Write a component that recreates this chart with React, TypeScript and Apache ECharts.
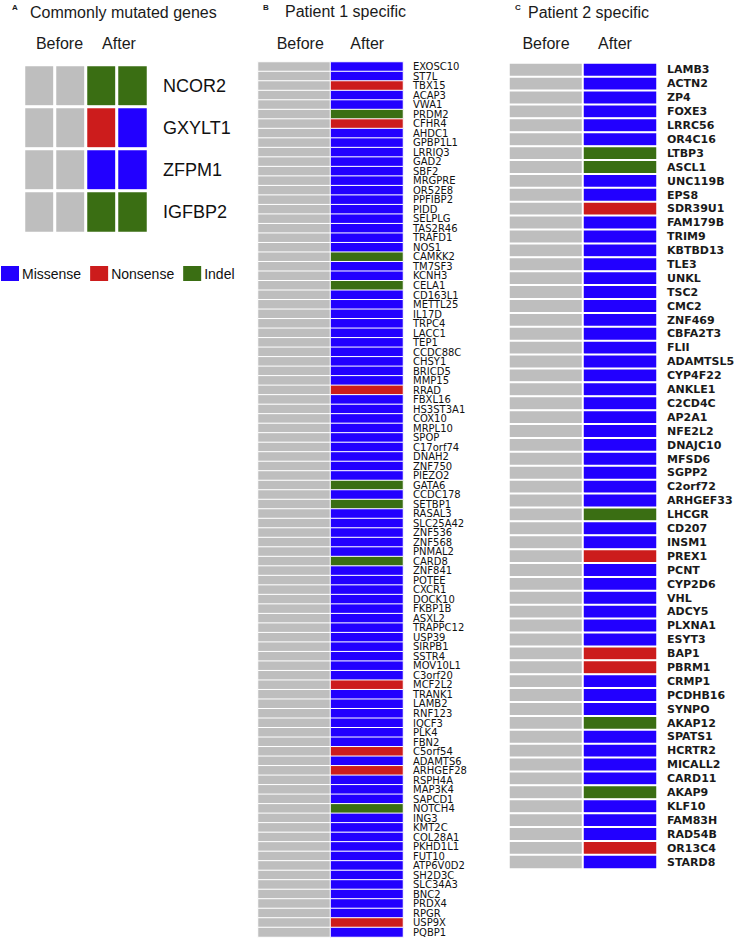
import React, { useEffect, useRef } from "react";
import * as echarts from "echarts";

// ---------- Data ----------
const colLabels = ["Before", "After"];
const commonCols = ["Before 1", "Before 2", "After 1", "After 2"];
const commonGenes = ["NCOR2", "GXYLT1", "ZFPM1", "IGFBP2"];
// "-" = no mutation (grey), M = Missense, N = Nonsense, I = Indel
const commonMuts = [
  ["-", "-", "I", "I"],
  ["-", "-", "N", "M"],
  ["-", "-", "M", "M"],
  ["-", "-", "I", "I"],
];

const p1Genes = [
  "EXOSC10", "ST7L", "TBX15", "ACAP3", "VWA1", "PRDM2", "CFHR4", "AHDC1", "GPBP1L1", "LRRIQ3",
  "GAD2", "SBF2", "MRGPRE", "OR52E8", "PPFIBP2", "PIDD", "SELPLG", "TAS2R46", "TRAFD1", "NOS1",
  "CAMKK2", "TM7SF3", "KCNH3", "CELA1", "CD163L1", "METTL25", "IL17D", "TRPC4", "LACC1", "TEP1",
  "CCDC88C", "CHSY1", "BRICD5", "MMP15", "RRAD", "FBXL16", "HS3ST3A1", "COX10", "MRPL10", "SPOP",
  "C17orf74", "DNAH2", "ZNF750", "PIEZO2", "GATA6", "CCDC178", "SETBP1", "RASAL3", "SLC25A42", "ZNF536",
  "ZNF568", "PNMAL2", "CARD8", "ZNF841", "POTEE", "CXCR1", "DOCK10", "FKBP1B", "ASXL2", "TRAPPC12",
  "USP39", "SIRPB1", "SSTR4", "MOV10L1", "C3orf20", "MCF2L2", "TRANK1", "LAMB2", "RNF123", "IQCF3",
  "PLK4", "FBN2", "C5orf54", "ADAMTS6", "ARHGEF28", "RSPH4A", "MAP3K4", "SAPCD1", "NOTCH4", "ING3",
  "KMT2C", "COL28A1", "PKHD1L1", "FUT10", "ATP6V0D2", "SH2D3C", "SLC34A3", "BNC2", "PRDX4", "RPGR",
  "USP9X", "PQBP1",
];
const p1Muts = [
  "M", "M", "N", "M", "M", "I", "N", "M", "M", "M",
  "M", "M", "M", "M", "M", "M", "M", "M", "M", "M",
  "I", "M", "M", "I", "M", "M", "M", "M", "M", "M",
  "M", "M", "M", "M", "N", "M", "M", "M", "M", "M",
  "M", "M", "M", "M", "I", "M", "I", "M", "M", "M",
  "M", "M", "I", "M", "M", "M", "M", "M", "M", "M",
  "M", "M", "M", "M", "M", "N", "M", "M", "M", "M",
  "M", "M", "N", "M", "N", "M", "M", "M", "I", "M",
  "M", "M", "M", "M", "M", "M", "M", "M", "M", "M",
  "N", "M",
];

const p2Genes = [
  "LAMB3", "ACTN2", "ZP4", "FOXE3", "LRRC56", "OR4C16", "LTBP3", "ASCL1", "UNC119B", "EPS8",
  "SDR39U1", "FAM179B", "TRIM9", "KBTBD13", "TLE3", "UNKL", "TSC2", "CMC2", "ZNF469", "CBFA2T3",
  "FLII", "ADAMTSL5", "CYP4F22", "ANKLE1", "C2CD4C", "AP2A1", "NFE2L2", "DNAJC10", "MFSD6", "SGPP2",
  "C2orf72", "ARHGEF33", "LHCGR", "CD207", "INSM1", "PREX1", "PCNT", "CYP2D6", "VHL", "ADCY5",
  "PLXNA1", "ESYT3", "BAP1", "PBRM1", "CRMP1", "PCDHB16", "SYNPO", "AKAP12", "SPATS1", "HCRTR2",
  "MICALL2", "CARD11", "AKAP9", "KLF10", "FAM83H", "RAD54B", "OR13C4", "STARD8",
];
const p2Muts = [
  "M", "M", "M", "M", "M", "M", "I", "I", "M", "M",
  "N", "M", "M", "M", "M", "M", "M", "M", "M", "M",
  "M", "M", "M", "M", "M", "M", "M", "M", "M", "M",
  "M", "M", "I", "M", "M", "N", "M", "M", "M", "M",
  "M", "M", "N", "N", "M", "M", "M", "I", "M", "M",
  "M", "M", "I", "M", "M", "M", "N", "M",
];

const mutCode: Record<string, number> = { "-": 0, M: 1, N: 2, I: 3 };
const legendNames = ["Missense", "Nonsense", "Indel"];

const GREY = "#BEBEBE";
const BLUE = "#2200FF";
const RED = "#CC1C1C";
const GREEN = "#3A6E13";

function buildCommon() {
  const d: number[][] = [];
  commonMuts.forEach((row, y) => row.forEach((m, x) => d.push([x, y, mutCode[m]])));
  return d;
}
function buildPatient(muts: string[]) {
  const d: number[][] = [];
  muts.forEach((m, y) => {
    d.push([0, y, 0]);
    d.push([1, y, mutCode[m]]);
  });
  return d;
}

export default function App() {
  const ref = useRef<HTMLDivElement>(null);
  useEffect(() => {
    if (!ref.current) return;
    const chart = echarts.init(ref.current, undefined, { renderer: "svg" });
    const sans = "Liberation Sans, Arial, Helvetica, sans-serif";
    const titleStyle = { fontSize: 16, fontWeight: "normal" as const, color: "#1a1a1a", fontFamily: sans };
    const letterStyle = { fontSize: 8, fontWeight: "bold" as const, color: "#1a1a1a", fontFamily: sans };
    const hiddenAxis = { axisLine: { show: false }, axisTick: { show: false }, splitLine: { show: false } };

    // per-column label nudges (rich padding) to match reference placement
    const colAxisLabel = (margin: number, bPad: number[], aPad: number[]) => ({
      fontSize: 16,
      color: "#1a1a1a",
      fontFamily: sans,
      margin,
      interval: 0,
      hideOverlap: false,
      formatter: (v: string) => (v === "Before" ? `{b|${v}}` : `{a|${v}}`),
      rich: {
        b: { fontSize: 16, color: "#1a1a1a", fontFamily: sans, padding: bPad },
        a: { fontSize: 16, color: "#1a1a1a", fontFamily: sans, padding: aPad },
      },
    });

    chart.setOption({
      animation: false,
      backgroundColor: "#ffffff",
      title: [
        { text: "A", left: 12, top: 3, padding: 0, textStyle: letterStyle },
        { text: "Commonly mutated genes", left: 30, top: 4, padding: 0, textStyle: titleStyle },
        { text: "B", left: 263, top: 3, padding: 0, textStyle: letterStyle },
        { text: "Patient 1 specific", left: 285, top: 3, padding: 0, textStyle: titleStyle },
        { text: "C", left: 515, top: 3, padding: 0, textStyle: letterStyle },
        { text: "Patient 2 specific", left: 528, top: 4, padding: 0, textStyle: titleStyle },
      ],
      grid: [
        { left: 24, top: 65, width: 124, height: 168 },
        { left: 258, top: 62, width: 145, height: 875 },
        { left: 509, top: 63, width: 148, height: 806 },
      ],
      xAxis: [
        { type: "category", gridIndex: 0, data: commonCols, show: false },
        {
          type: "category", gridIndex: 0, data: colLabels, position: "top", ...hiddenAxis,
          axisLabel: colAxisLabel(14, [0, 0, 0, 9], [0, 0, 0, 4]),
        },
        {
          type: "category", gridIndex: 1, data: colLabels, position: "top", ...hiddenAxis,
          axisLabel: colAxisLabel(11, [0, 0, 0, 12], [0, 0, 0, 1]),
        },
        {
          type: "category", gridIndex: 2, data: colLabels, position: "top", ...hiddenAxis,
          axisLabel: colAxisLabel(12, [0, 0, 0, 0], [0, 10, 0, 0]),
        },
      ],
      yAxis: [
        {
          type: "category", gridIndex: 0, data: commonGenes, inverse: true, position: "right", ...hiddenAxis,
          axisLabel: { fontSize: 18, color: "#111", fontFamily: sans, margin: 15, interval: 0 },
        },
        {
          type: "category", gridIndex: 1, data: p1Genes, inverse: true, position: "right", ...hiddenAxis,
          axisLabel: {
            fontSize: 10, lineHeight: 9.5, color: "#111", fontFamily: "DejaVu Sans, sans-serif",
            margin: 10, interval: 0,
          },
        },
        {
          type: "category", gridIndex: 2, data: p2Genes, inverse: true, position: "right", ...hiddenAxis,
          axisLabel: {
            fontSize: 11, fontWeight: "bold", color: "#1a1a1a", fontFamily: "DejaVu Sans, sans-serif",
            margin: 10, interval: 0,
          },
        },
      ],
      visualMap: {
        type: "piecewise",
        seriesIndex: [0, 1, 2],
        dimension: 2,
        orient: "horizontal",
        left: -14,
        top: 251,
        itemWidth: 18,
        itemHeight: 15,
        itemSymbol: "rect",
        textGap: 3,
        itemGap: 9,
        selectedMode: false,
        hoverLink: false,
        textStyle: { fontSize: 14, color: "#111", fontFamily: sans },
        pieces: [
          { value: 1, label: legendNames[0], color: BLUE },
          { value: 2, label: legendNames[1], color: RED },
          { value: 3, label: legendNames[2], color: GREEN },
        ],
        outOfRange: { color: GREY },
      },
      series: [
        {
          type: "heatmap", xAxisIndex: 0, yAxisIndex: 0, data: buildCommon(),
          itemStyle: { borderColor: "#fff", borderWidth: 3 },
        },
        {
          type: "heatmap", xAxisIndex: 2, yAxisIndex: 1, data: buildPatient(p1Muts),
          itemStyle: { borderColor: "#fff", borderWidth: 1 },
        },
        {
          type: "heatmap", xAxisIndex: 3, yAxisIndex: 2, data: buildPatient(p2Muts),
          itemStyle: { borderColor: "#fff", borderWidth: 2 },
        },
      ],
    });
    return () => chart.dispose();
  }, []);
  return (
    <div
      ref={ref}
      style={{ position: "absolute", left: 0, top: 0, width: 739, height: 940, background: "#fff" }}
    />
  );
}
